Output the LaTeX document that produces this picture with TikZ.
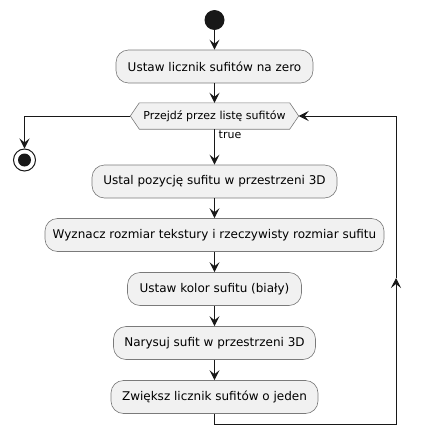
\documentclass[tikz,border=0pt]{standalone}
\usepackage{fontspec}
\setmainfont{DejaVu Sans}
\usetikzlibrary{arrows.meta,backgrounds}
\definecolor{boxfill}{HTML}{F1F1F1}
\definecolor{ink}{HTML}{181818}
\definecolor{boxline}{HTML}{7A7A7A}
\tikzset{
  x=1pt, y=-1pt,
  actbox/.style={draw=boxline, line width=0.6pt, fill=boxfill, rounded corners=12.5pt,
    minimum height=33pt, inner sep=0pt, font=\fontsize{12}{14}\selectfont},
  flow/.style={draw=ink, line width=1pt, -{Stealth[length=10pt,width=10pt,inset=4pt]}},
  hexlabel/.style={inner sep=0pt, minimum width=168pt, minimum height=26pt, font=\fontsize{11}{13}\selectfont},
  hexshape/.style={draw=boxline, line width=0.6pt, fill=boxfill},
  smalllabel/.style={inner sep=0pt, font=\fontsize{11}{13}\selectfont, anchor=base west}
}
\begin{document}
\begin{tikzpicture}
\useasboundingbox (0,0) rectangle (421,447);
\node[circle, fill=ink, minimum size=20pt, inner sep=0pt] (start) at (214.5,20) {};
\node[actbox, minimum width=197pt] (b1) at (214.5,66.5) {Ustaw licznik sufitów na zero};
\node[hexlabel] (loop) at (214.5,116) {Przejdź przez listę sufitów};
\begin{scope}[on background layer]
\draw[hexshape] (loop.west) -- ([xshift=9pt]loop.north west) -- ([xshift=-9pt]loop.north east)
  -- (loop.east) -- ([xshift=-9pt]loop.south east) -- ([xshift=9pt]loop.south west) -- cycle;
\end{scope}
\node[circle, draw=ink, line width=1pt, fill=white, minimum size=22pt, inner sep=0pt] (stop) at (24.5,160) {};
\node[circle, fill=ink, minimum size=13pt, inner sep=0pt] (stopin) at (stop.center) {};
\node[actbox, minimum width=245pt] (b2) at (214.5,181.5) {Ustal pozycję sufitu w przestrzeni 3D};
\node[actbox, minimum width=339pt] (b3) at (214.5,235) {Wyznacz rozmiar tekstury i rzeczywisty rozmiar sufitu};
\node[actbox, minimum width=174pt] (b4) at (214.5,289) {Ustaw kolor sufitu (biały)};
\node[actbox, minimum width=202pt] (b5) at (214.5,343) {Narysuj sufit w przestrzeni 3D};
\node[actbox, minimum width=207pt] (b6) at (214.5,397) {Zwiększ licznik sufitów o jeden};
\node[smalllabel] (truelbl) at (218.5,138.5) {true};
\coordinate (c1) at (214.5,424);
\coordinate (c2) at (396,424);
\coordinate (c3) at (396,116);
\coordinate (cmid) at (396,278);
\coordinate (cl) at (24.5,116);

\draw[flow] (start) -- (b1);
\draw[flow] (b1) -- (loop.north);
\draw[flow] (loop.south) -- (b2);
\draw[flow] (loop.west) -- (cl) -- (stop.north);
\draw[flow] (b2) -- (b3);
\draw[flow] (b3) -- (b4);
\draw[flow] (b4) -- (b5);
\draw[flow] (b5) -- (b6);
\draw[flow] (b6.south) -- (c1) -- (c2) -- (cmid);
\draw[flow] (cmid) -- (c3) -- (loop.east);
\end{tikzpicture}
\end{document}
